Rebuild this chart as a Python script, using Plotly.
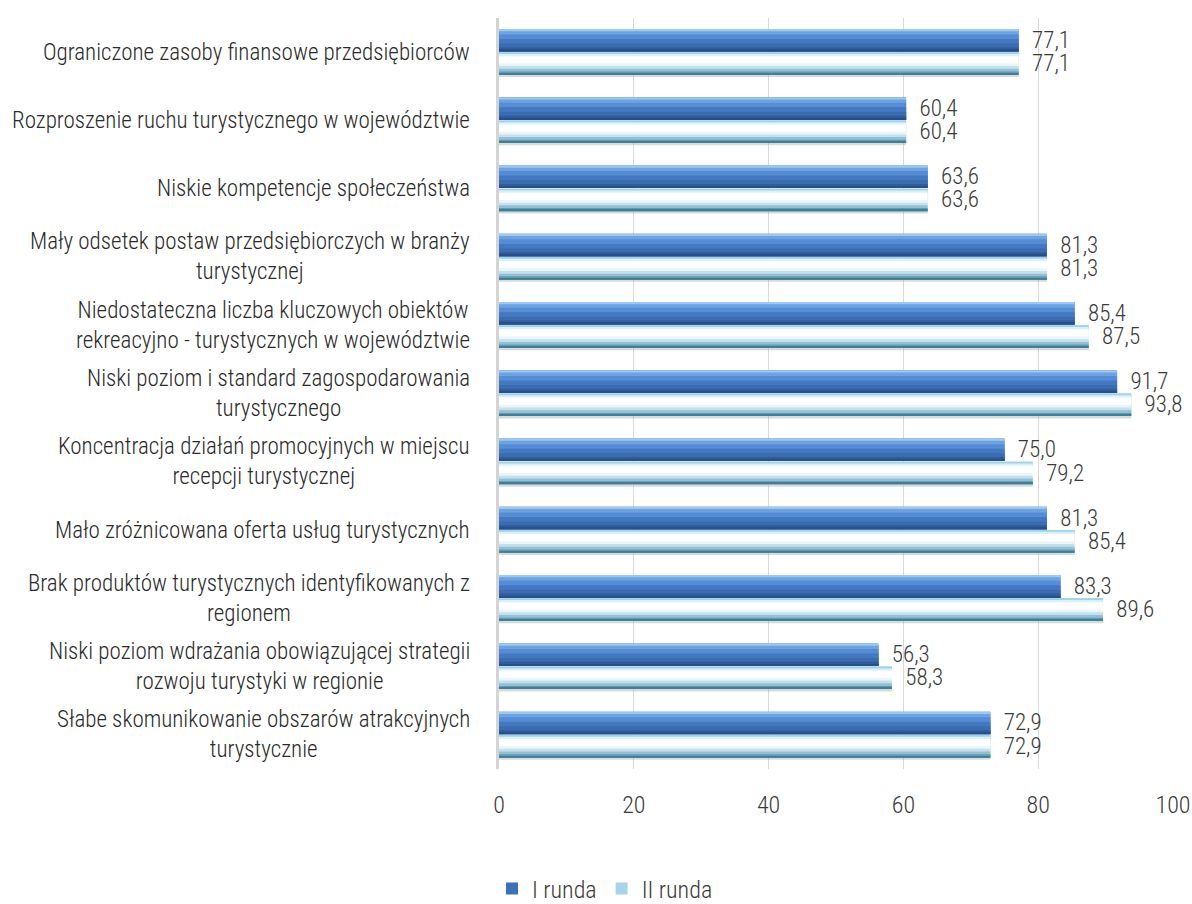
import plotly.graph_objects as go

categories = [
    "Ograniczone zasoby finansowe przedsiębiorców",
    "Rozproszenie ruchu turystycznego w województwie",
    "Niskie kompetencje społeczeństwa",
    "Mały odsetek postaw przedsiębiorczych w branży<br>turystycznej",
    "Niedostateczna liczba kluczowych obiektów<br>rekreacyjno - turystycznych w województwie",
    "Niski poziom i standard zagospodarowania<br>turystycznego",
    "Koncentracja działań promocyjnych w miejscu<br>recepcji turystycznej",
    "Mało zróżnicowana oferta usług turystycznych",
    "Brak produktów turystycznych identyfikowanych z<br>regionem",
    "Niski poziom wdrażania obowiązującej strategii<br>rozwoju turystyki w regionie",
    "Słabe skomunikowanie obszarów atrakcyjnych<br>turystycznie",
]
runda_1 = [77.1, 60.4, 63.6, 81.3, 85.4, 91.7, 75.0, 81.3, 83.3, 56.3, 72.9]
runda_2 = [77.1, 60.4, 63.6, 81.3, 87.5, 93.8, 79.2, 85.4, 89.6, 58.3, 72.9]
series_names = ["I runda", "II runda"]

FONT = "Roboto Condensed, Roboto, sans-serif"
TXT = "#3a3a3a"

# (offset, width, legend colour, gradient stops from the top edge of the bar)
bar_styles = [
    (-0.34, 0.33, "#3c70b8", [
        (0.00, "#9cc8f2"), (0.10, "#6da3e2"), (0.25, "#558dd4"), (0.45, "#4479c2"),
        (0.65, "#3a6cb2"), (0.82, "#2f5d9c"), (0.93, "#284f86"),
    ]),
    (0.0, 0.33, "#a8d4e8", [
        (0.00, "#9fd2ea"), (0.08, "#d8f1fb"), (0.18, "#ffffff"), (0.50, "#eaf5fa"),
        (0.62, "#c5e0ec"), (0.74, "#93c0d4"), (0.86, "#5e9db6"), (0.94, "#3e7f98"),
    ]),
]

fig = go.Figure()
for name, vals, (off, w, legend_col, stops) in zip(series_names, [runda_1, runda_2], bar_styles):
    fig.add_trace(go.Bar(
        x=vals, y=categories, orientation="h", name=name,
        offset=off, width=w, marker=dict(color=legend_col, line=dict(width=0)),
        texttemplate="  %{x:.1f}", textposition="outside", cliponaxis=False,
        constraintext="none",
        textfont=dict(family=FONT, size=23, color=TXT, weight=300),
    ))
    # each stop is drawn down to the bottom edge so the layers leave no seams
    for s0, col in stops:
        fig.add_trace(go.Bar(
            x=vals, y=categories, orientation="h", showlegend=False,
            offset=off + w * s0, width=w * (1 - s0),
            marker=dict(color=col, line=dict(width=0)), hoverinfo="skip",
        ))

# soft shadow under the lower bar
fig.add_trace(go.Bar(
    x=runda_2, y=categories, orientation="h", showlegend=False,
    offset=0.33, width=0.035, marker=dict(color="rgba(150,150,150,0.35)", line=dict(width=0)),
    hoverinfo="skip",
))

for cat in categories:
    fig.add_annotation(
        x=-0.04, xref="paper", y=cat, yref="y", text=cat, showarrow=False,
        xanchor="right", align="center",
        font=dict(family=FONT, size=23, color="#2a2a2a", weight=300),
    )

fig.update_layout(
    width=1192, height=904,
    margin=dict(l=499, r=19, t=18, b=135, autoexpand=False),
    barmode="overlay", separators=", ",
    plot_bgcolor="white", paper_bgcolor="white",
    font=dict(family=FONT, color=TXT, weight=300),
    legend=dict(
        orientation="h", x=-0.0104, xanchor="left", y=-0.1597, yanchor="middle",
        font=dict(family=FONT, size=24, color=TXT, weight=300),
        itemwidth=30, traceorder="normal",
    ),
    xaxis=dict(
        range=[0, 100], dtick=20, showgrid=True, gridcolor="#d9d9d9", gridwidth=1,
        zeroline=False, ticklabelstandoff=19, automargin=False,
        tickfont=dict(family=FONT, size=24, color=TXT, weight=300),
    ),
    yaxis=dict(
        range=[10.5, -0.5], autorange=False, showticklabels=False, showgrid=False,
        showline=True, linecolor="#d4d4d4", linewidth=3,
    ),
)

# drop the default page margin so the figure fills the window exactly
fig.write_html(
    "out.html",
    config={"displayModeBar": False},
    post_script="document.body.style.margin = '0';",
)
